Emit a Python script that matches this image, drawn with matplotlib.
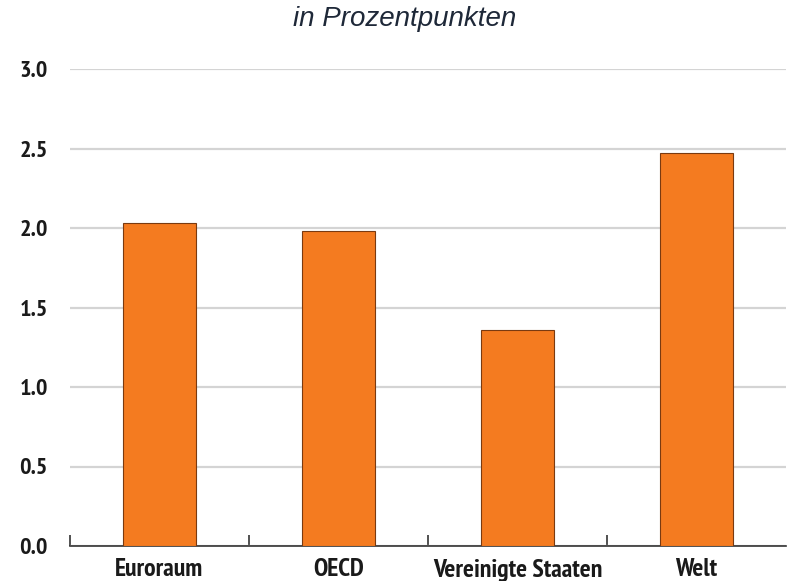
import matplotlib
matplotlib.use("Agg")
import matplotlib.pyplot as plt

categories = ["Euroraum", "OECD", "Vereinigte Staaten", "Welt"]
values = [2.03, 1.98, 1.36, 2.47]
yticks = [0.0, 0.5, 1.0, 1.5, 2.0, 2.5, 3.0]
subtitle = "in Prozentpunkten"

narrow = ["PT Sans Narrow", "Roboto Condensed", "Archivo Narrow", "DejaVu Sans"]

fig = plt.figure(figsize=(7.87, 5.81), dpi=100)
ax = fig.add_axes([70/787, (581-546)/581, (786-70)/787, (546-69)/581])

x = list(range(len(categories)))
ax.bar(x, values, width=0.41, color="#F47B20", edgecolor="#7a3a10", linewidth=0.8, zorder=3)

ax.set_xlim(-0.5, 3.5)
ax.set_ylim(0, 3.0)
ax.set_yticks(yticks)
ax.set_yticklabels([f"{v:.1f}" for v in yticks], fontfamily=narrow, fontweight="bold", fontsize=17.5, color="#1a1a1a")
ax.yaxis.grid(True, color="#d4d4d4", linewidth=1.6, zorder=0)
ax.tick_params(axis="y", length=0, pad=16)

ax.set_xticks(x)
ax.set_xticklabels(categories, fontfamily=narrow, fontweight="bold", fontsize=18.5, color="#1a1a1a")
ax.tick_params(axis="x", which="major", length=0, pad=9)
ax.set_xticks([-0.5, 0.5, 1.5, 2.5], minor=True)
ax.tick_params(axis="x", which="minor", direction="in", length=8, width=1.2, color="#333333")

for s in ["top", "right", "left"]:
    ax.spines[s].set_visible(False)
ax.spines["bottom"].set_color("#333333")
ax.spines["bottom"].set_linewidth(1.2)

fig.text(405/787, 1 - 19/581, subtitle, ha="center", va="center", fontsize=20,
         fontstyle="italic", fontfamily="Liberation Sans", color="#1e2838")

fig.savefig("out.png", dpi=100)
